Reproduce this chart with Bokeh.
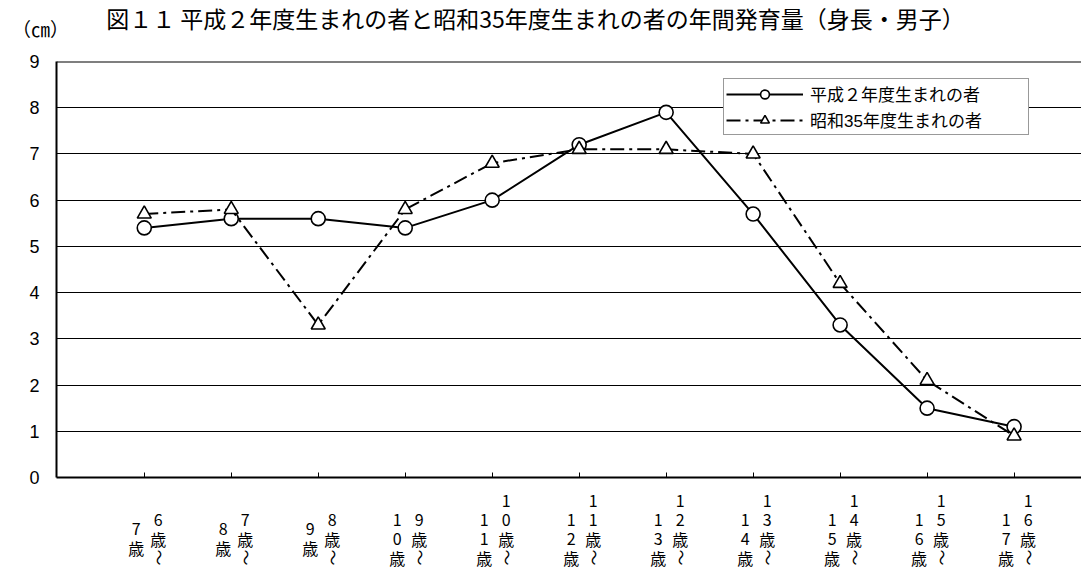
import math
from bokeh.plotting import figure
from bokeh.layouts import column
from bokeh.models import (Range1d, FixedTicker, Span, LabelSet,
                          ColumnDataSource, Legend, LegendItem)
from bokeh.embed import file_html
from bokeh.resources import INLINE
from bokeh.core.properties import value

# ---------------- data ----------------
title_text = "図１１ 平成２年度生まれの者と昭和35年度生まれの者の年間発育量（身長・男子）"
unit_text = "（㎝）"
x_labels = ["6歳〜7歳", "7歳〜8歳", "8歳〜9歳", "9歳〜10歳", "10歳〜11歳",
            "11歳〜12歳", "12歳〜13歳", "13歳〜14歳", "14歳〜15歳",
            "15歳〜16歳", "16歳〜17歳"]
series_names = ["平成２年度生まれの者", "昭和35年度生まれの者"]
heisei = [5.4, 5.6, 5.6, 5.4, 6.0, 7.2, 7.9, 5.7, 3.3, 1.5, 1.1]
showa = [5.7, 5.8, 3.3, 5.8, 6.8, 7.1, 7.1, 7.0, 4.2, 2.1, 0.9]
y_ticks = [0, 1, 2, 3, 4, 5, 6, 7, 8, 9]

# ---------------- layout (page pixels) ----------------
W, H = 1081, 569
HEAD_H = 45                  # header strip (title, unit)
CHART_BOTTOM = 488           # chart figure ends here, footer follows
F_LEFT, F_TOP, F_BOTTOM = 56, 61, 477
F_RIGHT = W
XS, XE = -0.009, 11.775
YS, YE = 0, 9
JP = "Noto Sans CJK JP"

xs = list(range(1, len(x_labels) + 1))
px_per_x = (F_RIGHT - F_LEFT) / (XE - XS)
x_range = Range1d(XS, XE)


def bare(fig):
    fig.background_fill_color = "white"
    fig.border_fill_color = "white"
    fig.outline_line_color = None
    fig.grid.visible = False
    return fig


# ---------------- header ----------------
head = bare(figure(width=W, height=HEAD_H, output_backend="svg", toolbar_location=None,
                   x_range=Range1d(0, W), y_range=Range1d(HEAD_H, 0),
                   x_axis_location=None, y_axis_location=None,
                   min_border_left=0, min_border_right=0,
                   min_border_top=0, min_border_bottom=0))
head.frame_align = False
head_src = ColumnDataSource(dict(x=[535, 40], y=[17, 28], t=[title_text, unit_text],
                                 s=["23px", "19px"]))
head.add_layout(LabelSet(x="x", y="y", text="t", source=head_src,
                         text_align="center", text_baseline="middle",
                         text_font=value(JP), text_font_size="s",
                         text_color="black"))

# ---------------- chart ----------------
p = figure(width=W, height=CHART_BOTTOM - HEAD_H, output_backend="svg",
           toolbar_location=None, x_range=x_range, y_range=Range1d(YS, YE),
           min_border_left=F_LEFT, min_border_right=0,
           min_border_top=F_TOP - HEAD_H, min_border_bottom=CHART_BOTTOM - F_BOTTOM)
p.background_fill_color = "white"
p.border_fill_color = "white"
p.outline_line_color = None

p.xgrid.visible = False
p.ygrid.ticker = FixedTicker(ticks=y_ticks)
p.ygrid.grid_line_color = "black"
p.ygrid.grid_line_width = 1

p.yaxis.ticker = FixedTicker(ticks=y_ticks)
p.yaxis.major_label_text_font = "Liberation Sans"
p.yaxis.major_label_text_font_size = "18px"
p.yaxis.major_label_text_color = "black"
p.yaxis.major_label_standoff = 17
p.yaxis.major_tick_in = 0
p.yaxis.major_tick_out = 0
p.yaxis.minor_tick_in = 0
p.yaxis.minor_tick_out = 0
p.yaxis.axis_line_width = 2
p.yaxis.axis_line_color = "black"

p.xaxis.ticker = FixedTicker(ticks=xs)
p.xaxis.major_label_overrides = {i: "" for i in xs}
p.xaxis.major_label_text_font_size = "0px"
p.xaxis.major_label_standoff = 0
p.xaxis.major_tick_in = 5
p.xaxis.major_tick_out = 0
p.xaxis.major_tick_line_color = "black"
p.xaxis.minor_tick_in = 0
p.xaxis.minor_tick_out = 0
p.xaxis.axis_line_width = 2
p.xaxis.axis_line_color = "black"

p.add_layout(Span(location=YE, dimension="width", line_color="black", line_width=2))

r1 = p.line(xs, heisei, line_color="black", line_width=2)
m1 = p.scatter(xs, heisei, marker="circle", size=14, fill_color="white",
               line_color="black", line_width=1.6)
r2 = p.line(xs, showa, line_color="black", line_width=2, line_dash="14 5 3 5")
m2 = p.scatter(xs, showa, marker="triangle", size=14, fill_color="white",
               line_color="black", line_width=1.6)

legend = Legend(items=[LegendItem(label=series_names[0], renderers=[r1, m1]),
                       LegendItem(label=series_names[1], renderers=[r2, m2])],
                location=(723 - F_LEFT, F_BOTTOM - 135),
                glyph_width=77, glyph_height=22, label_height=22,
                label_width=216, label_standoff=7, padding=2, spacing=1, margin=0,
                border_line_color="#333333", border_line_width=1,
                background_fill_color="white", background_fill_alpha=1,
                label_text_font="Liberation Sans, Noto Sans CJK JP",
                label_text_font_size="17px", label_text_color="black")
p.add_layout(legend)

# ---------------- footer: vertical category labels ----------------
foot_h = H - CHART_BOTTOM
foot = bare(figure(width=W, height=foot_h, output_backend="svg", toolbar_location=None,
                   x_range=x_range, y_range=Range1d(H, CHART_BOTTOM),
                   x_axis_location=None, y_axis_location=None,
                   min_border_left=F_LEFT, min_border_right=0,
                   min_border_top=0, min_border_bottom=0))

pitch = 19
bottom_c = 557
cx, cy, ct, ca = [], [], [], []
for xi, lab in zip(xs, x_labels):
    cut = lab.index("〜") + 1
    right, left = lab[:cut], lab[cut:]
    for k, ch in enumerate(reversed(right)):       # right column (read first)
        cx.append(xi + 14 / px_per_x)
        cy.append(bottom_c - pitch * k)
        ct.append(ch)
        ca.append(math.pi / 2 if ch == "〜" else 0.0)
    lb = bottom_c - (pitch / 2) * (3 - len(left))
    for k, ch in enumerate(reversed(left)):        # left column
        cx.append(xi - 8 / px_per_x)
        cy.append(lb - pitch * k)
        ct.append(ch)
        ca.append(0.0)

src = ColumnDataSource(dict(x=cx, y=cy, t=ct, a=ca))
foot.add_layout(LabelSet(x="x", y="y", text="t", angle="a", source=src,
                         text_align="center", text_baseline="middle",
                         text_font=value(JP), text_font_size="16px",
                         text_color="black"))

layout = column(head, p, foot, spacing=0)
open("out.html", "w").write(file_html(layout, INLINE))
